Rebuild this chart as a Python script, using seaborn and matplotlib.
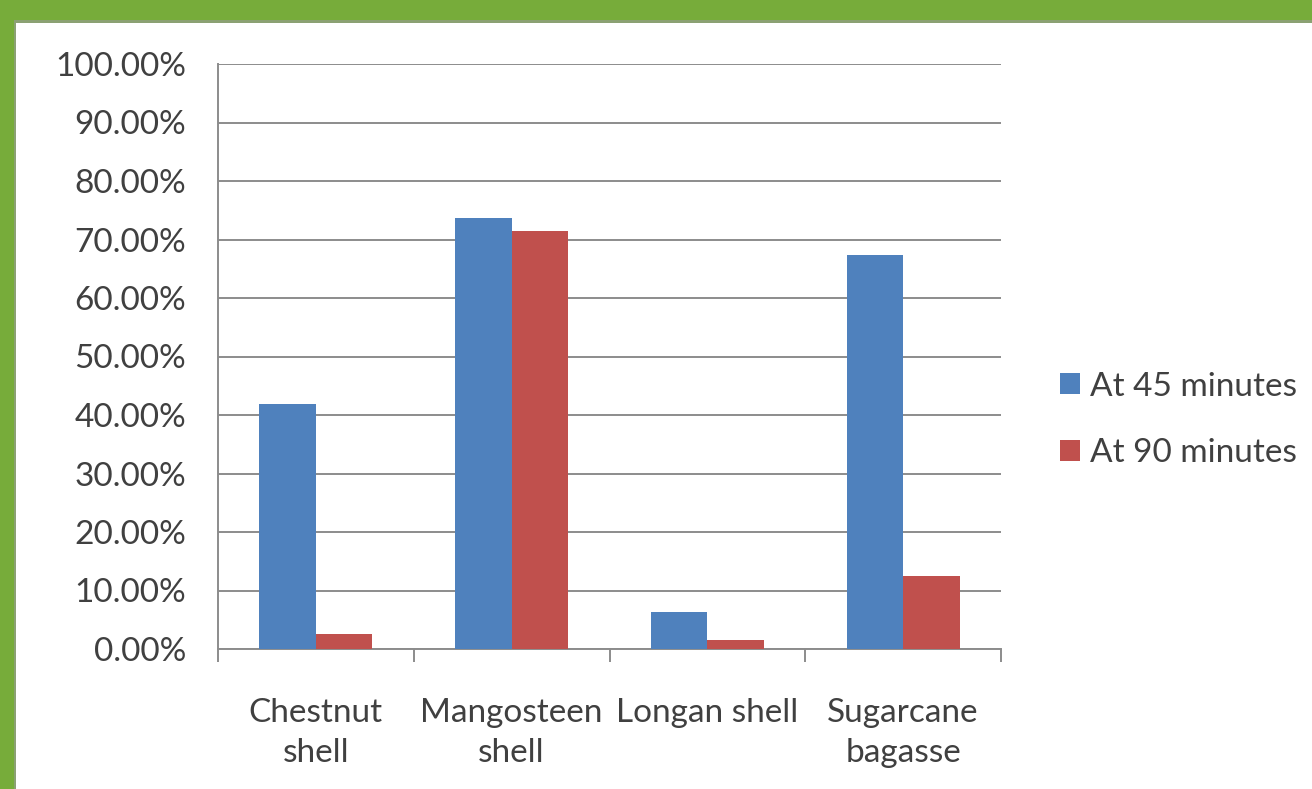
import matplotlib
matplotlib.use("Agg")
import matplotlib.pyplot as plt
from matplotlib.patches import Rectangle
from matplotlib.ticker import FixedLocator, PercentFormatter
import seaborn as sns
import pandas as pd

categories = ["Chestnut\nshell", "Mangosteen\nshell", "Longan shell", "Sugarcane\nbagasse"]
series_names = ["At 45 minutes", "At 90 minutes"]
at_45 = [0.418, 0.737, 0.064, 0.674]
at_90 = [0.026, 0.715, 0.016, 0.125]
y_ticks = [i / 10 for i in range(11)]

df = pd.DataFrame({
    "category": categories * 2,
    "series": [series_names[0]] * 4 + [series_names[1]] * 4,
    "value": at_45 + at_90,
})

sns.set_theme(style="white")
plt.rcParams["font.family"] = ["Lato", "DejaVu Sans"]

W, H = 1312, 789
FS = 24
fig = plt.figure(figsize=(W / 100, H / 100), dpi=100)
fig.patch.set_facecolor("#77AC3A")
# white panel with soft shadow edge
fig.patches.append(Rectangle((14 / W, 0), 1, 1 - 20 / H, transform=fig.transFigure,
                             facecolor="#9a9a9a", edgecolor="none", zorder=-20, alpha=0.6))
fig.patches.append(Rectangle((16 / W, 0), 1, 1 - 23 / H, transform=fig.transFigure,
                             facecolor="white", edgecolor="none", zorder=-10))

ax = fig.add_axes([218 / W, 1 - 649 / H, (1001 - 218) / W, (649 - 64) / H])
ax.set_zorder(5)
ax.set_facecolor("none")

palette = {series_names[0]: "#4F81BD", series_names[1]: "#C0504D"}
sns.barplot(data=df, x="category", y="value", hue="series", palette=palette,
            width=0.577, gap=0, saturation=1, ax=ax, zorder=3, edgecolor="none")

ax.set_ylim(0, 1.0)
ax.set_xlim(-0.5, 3.5)
ax.yaxis.set_major_locator(FixedLocator(y_ticks))
ax.yaxis.set_major_formatter(PercentFormatter(xmax=1.0, decimals=2))
ax.grid(axis="y", color="#8c8c8c", linewidth=1.4, zorder=0)
ax.grid(axis="x", visible=False)
ax.set_axisbelow(True)

for s in ["top", "right"]:
    ax.spines[s].set_visible(False)
for s in ["left", "bottom"]:
    ax.spines[s].set_color("#8c8c8c")
    ax.spines[s].set_linewidth(1.4)

ax.xaxis.set_minor_locator(FixedLocator([-0.5, 0.5, 1.5, 2.5, 3.5]))
ax.tick_params(axis="x", which="major", length=0, pad=35, labelsize=FS, labelcolor="#404040")
ax.tick_params(axis="x", which="minor", length=9, width=1.4, color="#8c8c8c", direction="out")
ax.tick_params(axis="y", which="major", length=9, width=1.4, color="#8c8c8c", direction="out",
               labelsize=FS, labelcolor="#404040", pad=14)
ax.tick_params(axis="x", which="both", bottom=True)
ax.set_xlabel("")
ax.set_ylabel("")
for lbl in ax.get_xticklabels():
    lbl.set_linespacing(1.45)

leg = ax.legend(loc="center left", bbox_to_anchor=(1060 / W, 1 - 420 / H),
                bbox_transform=fig.transFigure, frameon=False, fontsize=FS,
                handlelength=0.6, handleheight=0.6, handletextpad=0.3, labelspacing=1.1,
                borderpad=0, borderaxespad=0, title=None)
for t in leg.get_texts():
    t.set_color("#404040")

fig.savefig("out.png", dpi=100, facecolor=fig.get_facecolor())
